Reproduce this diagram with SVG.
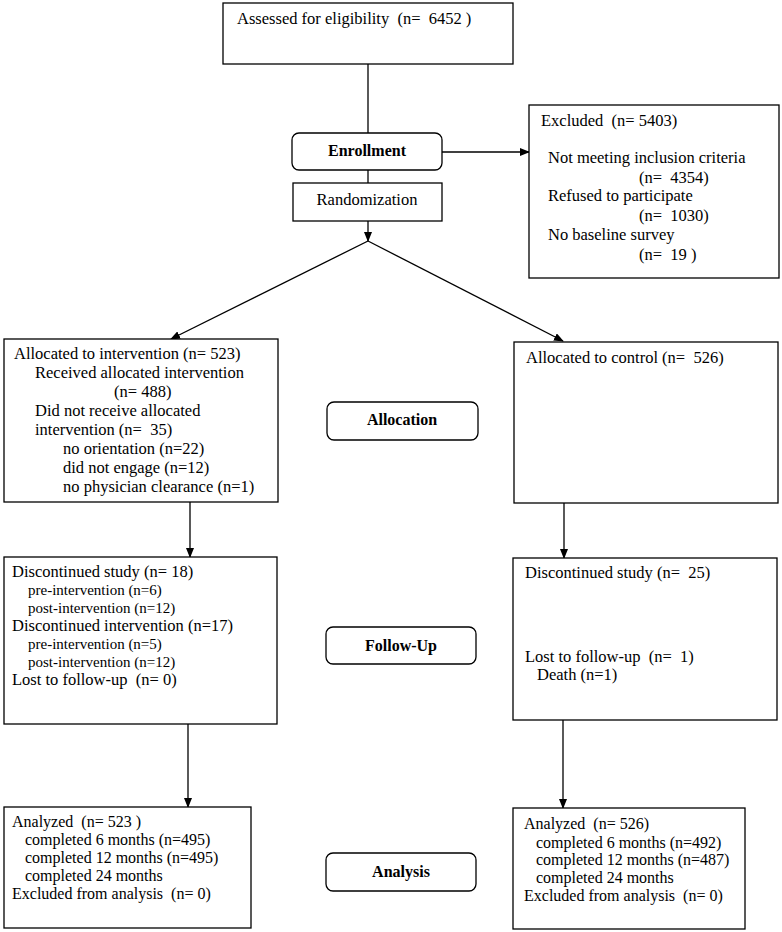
<svg xmlns="http://www.w3.org/2000/svg" width="782" height="932" viewBox="0 0 782 932">
<style>
.box{fill:#fff;stroke:#000;stroke-width:1.3}
.t{font-family:"Liberation Serif","Times New Roman",serif;font-size:16.5px;fill:#000}
.s{font-family:"Liberation Serif","Times New Roman",serif;font-size:15px;fill:#000}
.a{font-family:"Liberation Serif","Times New Roman",serif;font-size:16px;fill:#000}
.b{font-family:"Liberation Serif","Times New Roman",serif;font-size:16px;font-weight:bold;fill:#000;text-anchor:middle}
.c{stroke:#000;stroke-width:1.3;fill:none}
.arr{marker-end:url(#ah)}
</style>
<defs>
<marker id="ah" markerWidth="10" markerHeight="8" refX="9" refY="4" orient="auto" markerUnits="userSpaceOnUse">
<path d="M0,0 L10,4 L0,8 Z" fill="#000"/>
</marker>
</defs>
<rect width="782" height="932" fill="#fff"/>
<g id="connectors">
<line class="c" x1="368" y1="64" x2="368" y2="133"/>
<line class="c" x1="368" y1="170" x2="368" y2="183"/>
<line class="c arr" x1="442" y1="152" x2="529" y2="152"/>
<line class="c arr" x1="368" y1="221" x2="368" y2="241"/>
<line class="c arr" x1="368" y1="241" x2="171" y2="339"/>
<line class="c arr" x1="368" y1="241" x2="563" y2="341"/>
<line class="c arr" x1="190" y1="502" x2="190" y2="557"/>
<line class="c arr" x1="564" y1="503" x2="564" y2="558"/>
<line class="c arr" x1="188" y1="724" x2="188" y2="807"/>
<line class="c arr" x1="563" y1="720" x2="563" y2="808"/>
</g>
<g id="assessed">
<rect class="box" x="223" y="3" width="290" height="61"/>
<text class="t" x="237" y="24" xml:space="preserve">Assessed for eligibility  (n=  6452 )</text>
</g>
<g id="enrollment">
<rect class="box" x="292" y="133" width="150" height="37" rx="7"/>
<text class="b" x="367" y="156">Enrollment</text>
</g>
<g id="randomization">
<rect class="box" x="293" y="183" width="149" height="38"/>
<text class="t" x="367" y="205" text-anchor="middle">Randomization</text>
</g>
<g id="excluded">
<rect class="box" x="529" y="105" width="250" height="173"/>
<text class="t" x="541" y="126" xml:space="preserve">Excluded  (n= 5403)</text>
<text class="t" x="548" y="163">Not meeting inclusion criteria</text>
<text class="t" x="639" y="183" xml:space="preserve">(n=  4354)</text>
<text class="t" x="548" y="201">Refused to participate</text>
<text class="t" x="639" y="221" xml:space="preserve">(n=  1030)</text>
<text class="t" x="548" y="240">No baseline survey</text>
<text class="t" x="639" y="260" xml:space="preserve">(n=  19 )</text>
</g>
<g id="alloc-intervention">
<rect class="box" x="4" y="339" width="274" height="163"/>
<text class="t" x="14" y="359">Allocated to intervention (n= 523)</text>
<text class="t" x="35" y="378">Received allocated intervention</text>
<text class="t" x="114" y="397">(n= 488)</text>
<text class="t" x="35" y="416">Did not receive allocated</text>
<text class="t" x="35" y="435" xml:space="preserve">intervention (n=  35)</text>
<text class="t" x="63" y="454">no orientation (n=22)</text>
<text class="t" x="63" y="473">did not engage (n=12)</text>
<text class="t" x="63" y="492">no physician clearance (n=1)</text>
</g>
<g id="allocation-label">
<rect class="box" x="327" y="402" width="151" height="38" rx="7"/>
<text class="b" x="402" y="425">Allocation</text>
</g>
<g id="alloc-control">
<rect class="box" x="514" y="342" width="264" height="161"/>
<text class="t" x="526" y="363" xml:space="preserve">Allocated to control (n=  526)</text>
</g>
<g id="followup-intervention">
<rect class="box" x="4" y="557" width="273" height="167"/>
<text class="t" x="12" y="577">Discontinued study (n= 18)</text>
<text class="s" x="28" y="595">pre-intervention (n=6)</text>
<text class="s" x="28" y="613">post-intervention (n=12)</text>
<text class="t" x="12" y="631">Discontinued intervention (n=17)</text>
<text class="s" x="28" y="649">pre-intervention (n=5)</text>
<text class="s" x="28" y="667">post-intervention (n=12)</text>
<text class="t" x="12" y="685" xml:space="preserve">Lost to follow-up  (n= 0)</text>
</g>
<g id="followup-label">
<rect class="box" x="326" y="627" width="150" height="37" rx="7"/>
<text class="b" x="401" y="651">Follow-Up</text>
</g>
<g id="followup-control">
<rect class="box" x="513" y="558" width="264" height="162"/>
<text class="t" x="525" y="578" xml:space="preserve">Discontinued study (n=  25)</text>
<text class="t" x="525" y="662" xml:space="preserve">Lost to follow-up  (n=  1)</text>
<text class="t" x="537" y="680">Death (n=1)</text>
</g>
<g id="analysis-intervention">
<rect class="box" x="4" y="807" width="247" height="121"/>
<text class="a" x="12" y="827" xml:space="preserve">Analyzed  (n= 523 )</text>
<text class="a" x="25" y="845">completed 6 months (n=495)</text>
<text class="a" x="25" y="863">completed 12 months (n=495)</text>
<text class="a" x="25" y="881">completed 24 months</text>
<text class="a" x="12" y="899" xml:space="preserve">Excluded from analysis  (n= 0)</text>
</g>
<g id="analysis-label">
<rect class="box" x="326" y="853" width="150" height="38" rx="7"/>
<text class="b" x="401" y="877">Analysis</text>
</g>
<g id="analysis-control">
<rect class="box" x="513" y="808" width="232" height="121"/>
<text class="a" x="524" y="829" xml:space="preserve">Analyzed  (n= 526)</text>
<text class="a" x="536" y="848">completed 6 months (n=492)</text>
<text class="a" x="536" y="865">completed 12 months (n=487)</text>
<text class="a" x="536" y="883">completed 24 months</text>
<text class="a" x="524" y="901" xml:space="preserve">Excluded from analysis  (n= 0)</text>
</g>
</svg>
